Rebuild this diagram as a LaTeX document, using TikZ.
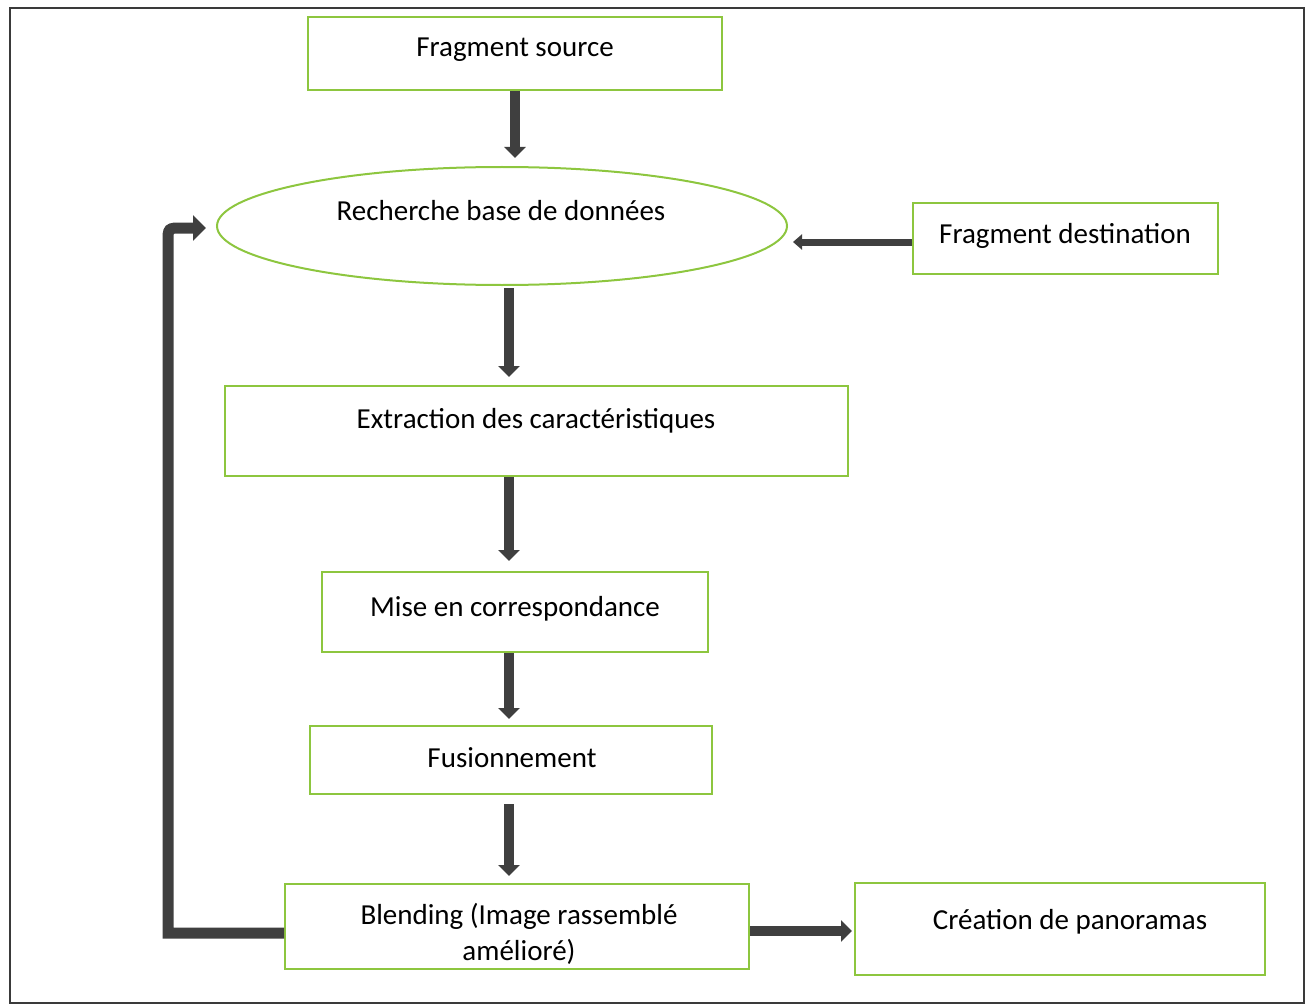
\documentclass[tikz,border=0pt]{standalone}
\usepackage{fontspec}
\setmainfont{Carlito}
\usetikzlibrary{arrows.meta,calc,shapes.geometric}
\definecolor{boxgreen}{HTML}{8DC63F}
\definecolor{arrowgray}{HTML}{3F3F3F}
\definecolor{framegray}{HTML}{3A3A3A}
\begin{document}
\begin{tikzpicture}[x=1pt,y=-1pt,
  box/.style={draw=boxgreen,line width=2pt,rectangle,inner sep=0pt},
  oval/.style={draw=boxgreen,line width=2pt,ellipse,inner sep=0pt},
  txt/.style={font=\fontsize{29}{36}\selectfont,text=black,align=center,inner sep=0pt,anchor=base},
  flow/.style={draw=arrowgray,line width=10pt,-{Triangle[width=21pt,length=11pt]}},
  thinflow/.style={draw=arrowgray,line width=7pt,-{Triangle[width=15pt,length=9pt]}},
  loopflow/.style={draw=arrowgray,line width=11pt,line join=miter,-{Triangle[width=25pt,length=13pt]}},
]
\useasboundingbox (0,0) rectangle (1310,1006);
% outer frame
\draw[framegray,line width=2pt] (10,8) rectangle (1304,1003);

% process boxes
\node[box,minimum width=414pt,minimum height=73pt] (src) at (515,53.5) {};
\node[oval,minimum width=570pt,minimum height=118pt] (ell) at (502,226) {};
\node[box,minimum width=305pt,minimum height=71pt] (dest) at (1065.5,238.5) {};
\node[box,minimum width=623pt,minimum height=90pt] (ext) at (536.5,431) {};
\node[box,minimum width=386pt,minimum height=80pt] (mise) at (515,612) {};
\node[box,minimum width=402pt,minimum height=68pt] (fus) at (511,760) {};
\node[box,minimum width=464pt,minimum height=85pt] (blend) at (517,926.5) {};
\node[box,minimum width=410pt,minimum height=92pt] (crea) at (1060,929) {};

% labels (anchored on the baseline of their last line)
\node[txt] (srct) at (515,57) {Fragment source};
\node[txt] (ellt) at (501,221) {Recherche base de données};
\node[txt] (destt) at (1065,243) {Fragment destination};
\node[txt] (extt) at (536,428) {Extraction des caractéristiques};
\node[txt] (miset) at (515,616) {Mise en correspondance};
\node[txt] (fust) at (512,767) {Fusionnement};
\node[txt] (blendt) at (519,960) {Blending (Image rassemblé\\amélioré)};
\node[txt] (creat) at (1070,929) {Création de panoramas};

% connectors
\coordinate (axis) at (509,0);
\coordinate (desttip) at (793,242);
\coordinate (loopa) at (168,933);
\coordinate (loopb) at (168,242);
\coordinate (loopc) at (182,228);
\coordinate (looptip) at (206,228);

\draw[flow,shorten >=8pt] (src.south) -- (src.south |- ell.north);
\draw[flow,shorten <=2pt,shorten >=8pt] (ell.south -| axis) -- (ext.north -| axis);
\draw[flow,shorten >=10pt] (ext.south -| axis) -- (mise.north -| axis);
\draw[flow,shorten >=6pt] (mise.south -| axis) -- (fus.north -| axis);
\draw[flow,shorten <=9pt,shorten >=7pt] (fus.south -| axis) -- (blend.north -| axis);
\draw[thinflow] ([yshift=-3.5pt]dest.west) -- (desttip);
\draw[flow,shorten >=2pt] ([yshift=-4.5pt]blend.east) -- ([yshift=-2pt]crea.west);
\draw[loopflow] ([yshift=-6.5pt]blend.west) -- (loopa) -- (loopb)
  .. controls (168,228) .. (loopc) -- (looptip);
\end{tikzpicture}
\end{document}
